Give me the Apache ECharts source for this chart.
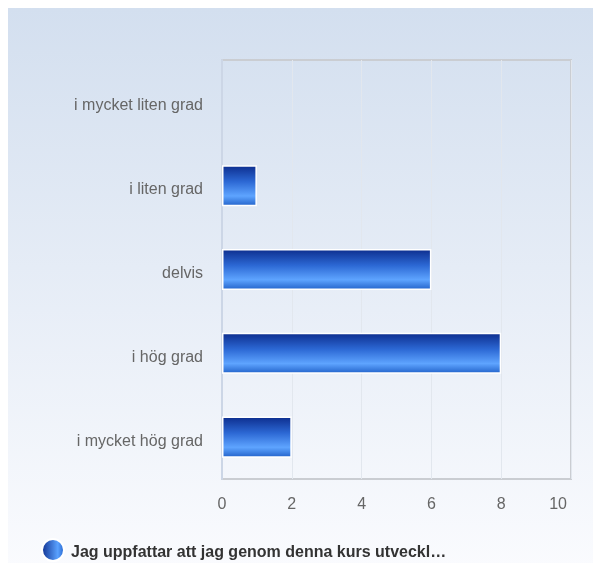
<!DOCTYPE html>
<html><head><meta charset="utf-8">
<script src="https://cdn.jsdelivr.net/npm/echarts@6/dist/echarts.min.js"></script>
<style>html,body{margin:0;padding:0;background:#fff}#c{width:593px;height:563px}</style>
</head><body><div id="c"></div>
<script>
const categories = ['i mycket liten grad', 'i liten grad', 'delvis', 'i hög grad', 'i mycket hög grad'];
const values = [0, 1, 6, 8, 2];
const seriesName = 'Jag uppfattar att jag genom denna kurs utveckl…';
const xTicks = [0, 2, 4, 6, 8, 10];

const chart = echarts.init(document.getElementById('c'), null, {renderer: 'canvas'});
const barGrad = new echarts.graphic.LinearGradient(0, 0, 0, 1, [
  {offset: 0, color: '#0c2c8c'},
  {offset: 0.4, color: '#2c68d4'},
  {offset: 0.75, color: '#5ea4ff'},
  {offset: 1, color: '#2060c8'}
]);
const legendGrad = new echarts.graphic.LinearGradient(0, 0, 1, 0, [
  {offset: 0, color: '#0c2c8c'},
  {offset: 0.7, color: '#5aa2ff'},
  {offset: 1, color: '#1e5cc6'}
]);
const lblFont = {color: '#666', fontSize: 16, fontFamily: 'Liberation Sans, Arial'};
chart.setOption({
  animation: false,
  graphic: [{
    type: 'rect', z: -10, silent: true,
    shape: {x: 8, y: 8, width: 585, height: 560},
    style: {fill: new echarts.graphic.LinearGradient(0, 0, 0, 1, [
      {offset: 0, color: '#d3dfef'},
      {offset: 1, color: '#fafbfe'}
    ])}
  }],
  grid: {left: 222, top: 60, right: 22, bottom: 84, show: true, borderColor: '#cacdd2', borderWidth: 2, backgroundColor: 'transparent'},
  xAxis: {
    type: 'value', min: 0, max: 10, interval: 2,
    axisLine: {show: false}, axisTick: {show: false},
    axisLabel: Object.assign({}, lblFont, {margin: 18, alignMaxLabel: 'right',
      formatter: v => !xTicks.includes(v) ? '' : (v === 10 ? '{r|' + v + '}' : String(v)),
      rich: {r: Object.assign({}, lblFont, {padding: [0, 4, 0, 0]})}}),
    splitLine: {show: true, lineStyle: {color: '#e2e7ee', width: 1}}
  },
  yAxis: {
    type: 'category', data: categories, inverse: true,
    axisLine: {show: true, lineStyle: {color: '#ccd6e6', width: 2}},
    axisTick: {show: false},
    axisLabel: Object.assign({}, lblFont, {margin: 19,
      formatter: v => '{a|' + v + '}',
      rich: {a: Object.assign({}, lblFont, {padding: [8, 0, 0, 0]})}})
  },
  legend: {
    left: 41, top: 538, padding: 0, icon: 'circle', itemWidth: 22, itemHeight: 22, itemGap: 8,
    formatter: n => '{a|' + n + '}',
    textStyle: {color: '#333', fontSize: 16, fontWeight: 'bold', fontFamily: 'Liberation Sans, Arial',
      rich: {a: {color: '#333', fontSize: 16, fontWeight: 'bold', fontFamily: 'Liberation Sans, Arial', padding: [5, 0, 0, 2]}}},
    data: [{name: seriesName, itemStyle: {color: legendGrad}}]
  },
  series: [{
    type: 'bar', name: seriesName, barWidth: '49%',
    data: values.map(v => v === 0 ? {value: v, itemStyle: {borderWidth: 0}} : v),
    itemStyle: {color: barGrad, borderColor: '#ffffff', borderWidth: 1.5}
  }]
});
</script></body></html>
